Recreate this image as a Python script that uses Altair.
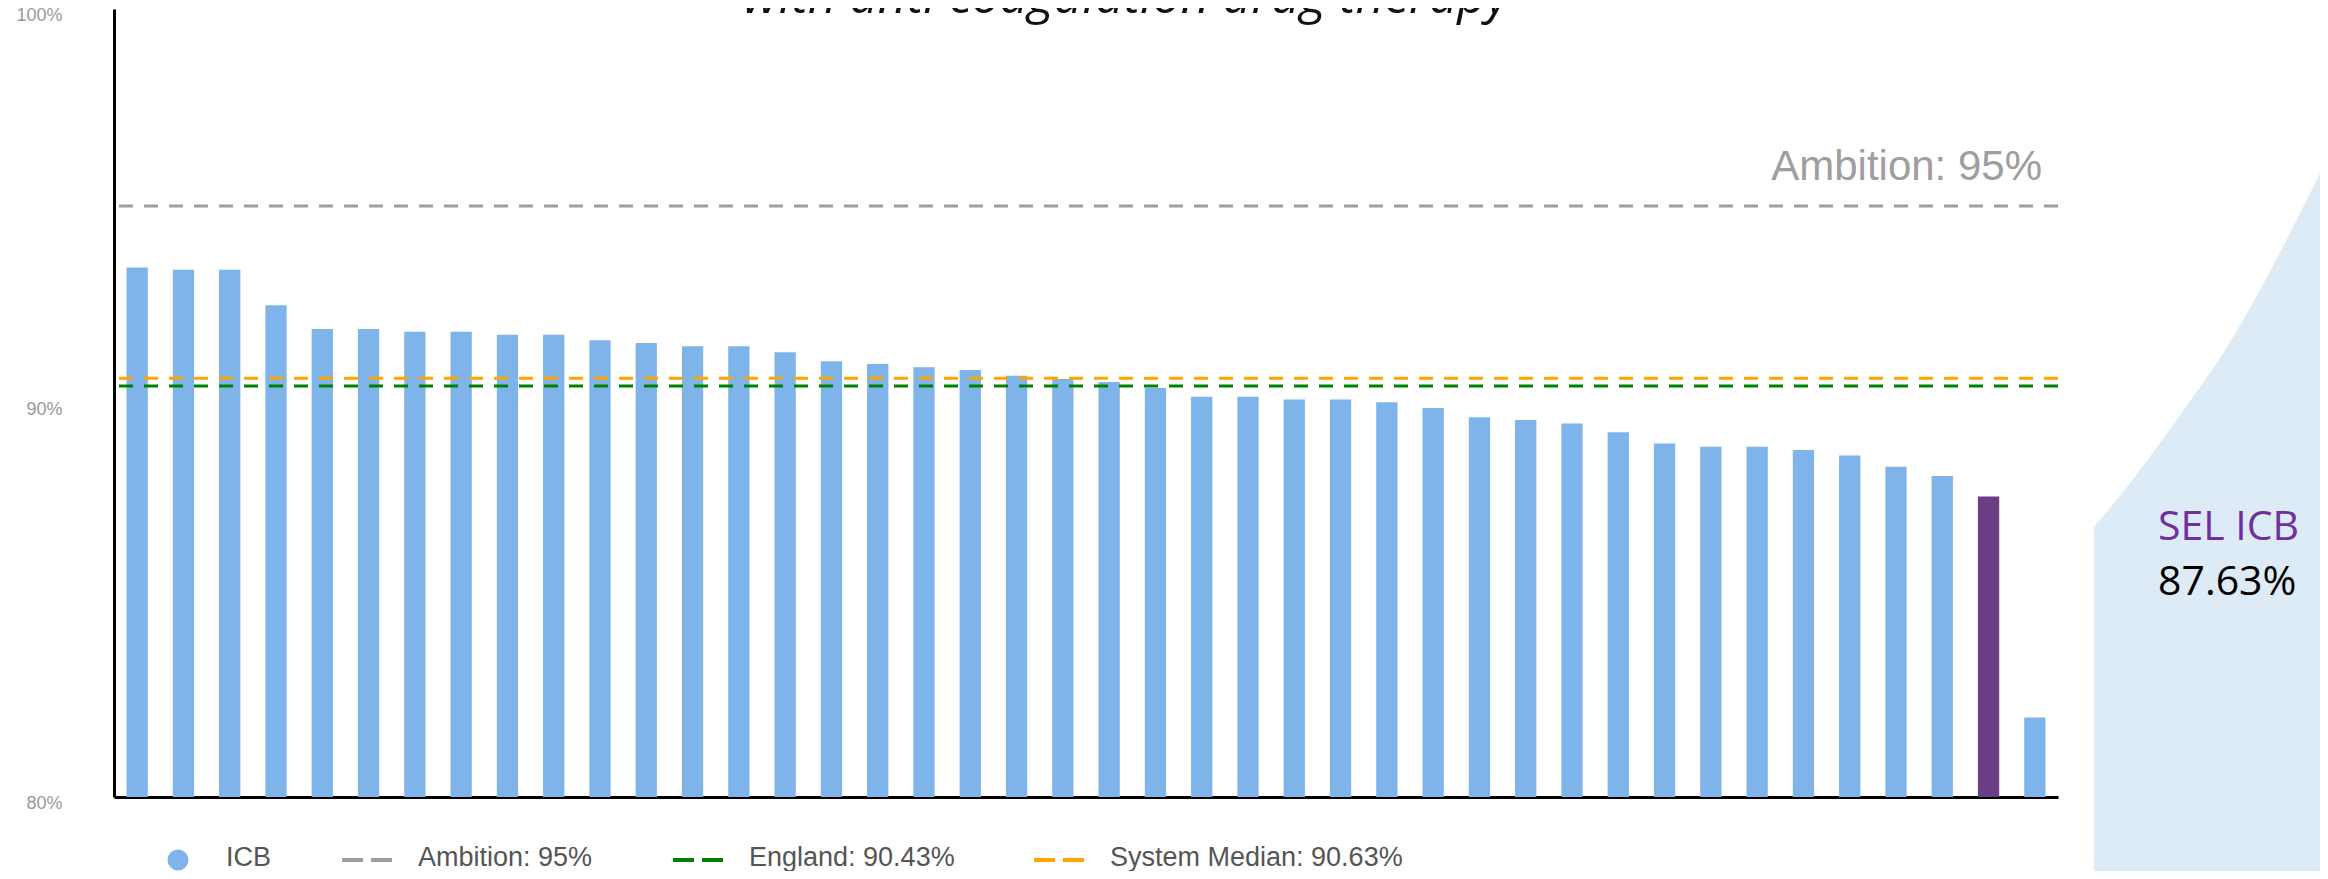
import altair as alt
import pandas as pd

# ---------------- data ----------------
icb_names = [f"ICB {i:02d}" for i in range(1, 41)] + ["SEL ICB", "ICB 42"]
icb_values = [93.44, 93.38, 93.38, 92.48, 91.88, 91.88, 91.81, 91.81, 91.73, 91.73,
              91.59, 91.52, 91.44, 91.44, 91.29, 91.06, 90.99, 90.91, 90.84, 90.69,
              90.61, 90.53, 90.38, 90.16, 90.16, 90.09, 90.09, 90.02, 89.87, 89.64,
              89.57, 89.48, 89.26, 88.97, 88.89, 88.89, 88.81, 88.67, 88.38, 88.15,
              87.63, 82.02]
highlight = "SEL ICB"

ref_names = ["Ambition: 95%", "England: 90.43%", "System Median: 90.63%"]
ref_values = [95.0, 90.43, 90.63]
ref_colors = ["#9E9E9E", "#008000", "#FFA500"]

y_ticks = [80, 90, 100]
title_line = "with anti coagulation drug therapy"
sel_label = "SEL ICB"
sel_value_label = "87.63%"

# decorative background shape (page pixel coordinates)
shape_x = [2094, 2127, 2160, 2193, 2227, 2260, 2293, 2328]
shape_y = [527, 487, 443, 397, 347, 290, 227, 157]

# ---------------- layout ----------------
W, H = 1944, 788
BLUE = "#7EB4EA"
PURPLE = "#6B3D84"
YDOM = [80, 100]

df = pd.DataFrame({"icb": icb_names, "value": icb_values})

yaxis = alt.Axis(values=y_ticks, labelExpr="datum.value + '%'", ticks=False, grid=False,
                 domain=True, domainColor="black", domainWidth=3, labelColor="#999999",
                 labelFont="Liberation Sans", labelFontSize=18, labelPadding=52,
                 labelOffset=6, title=None)

bars = alt.Chart(df).mark_bar().encode(
    x=alt.X("icb:N", sort=icb_names,
            scale=alt.Scale(paddingInner=0.54, paddingOuter=0.27),
            axis=alt.Axis(labels=False, ticks=False, grid=False, title=None,
                          domainColor="black", domainWidth=3)),
    y=alt.Y("value:Q", scale=alt.Scale(domain=YDOM, nice=False, zero=False), axis=yaxis),
    y2=alt.datum(YDOM[0]),
    color=alt.condition(alt.datum.icb == highlight, alt.value(PURPLE), alt.value(BLUE)),
)

rules = []
for nm, val, col in zip(ref_names, ref_values, ref_colors):
    rules.append(
        alt.Chart(pd.DataFrame({"ref": [nm], "value": [val]}))
        .mark_rule(color=col, strokeWidth=3, strokeDash=[14, 11])
        .encode(y=alt.Y("value:Q", scale=alt.Scale(domain=YDOM, nice=False, zero=False), axis=yaxis))
    )

main = alt.layer(bars, *rules)

shape = alt.Chart(pd.DataFrame({"x": shape_x, "y": shape_y})).mark_area(
    color="#DDEBF7", interpolate="monotone"
).encode(
    x=alt.X("x:Q", scale=alt.Scale(domain=[114, 2328], range=[0, 2214], nice=False, zero=False), axis=None),
    y=alt.Y("y:Q", scale=alt.Scale(domain=[9, 879], range=[0, 870], nice=False, zero=False), axis=None),
    y2=alt.datum(879),
)


def text_layer(txt, x, y, **kw):
    return alt.Chart(pd.DataFrame({"t": [txt]})).mark_text(**kw).encode(
        text="t:N", x=alt.value(x), y=alt.value(y))


title_txt = text_layer(title_line, 1012, 4, align="center", baseline="alphabetic",
                       font="Open Sans", fontStyle="italic", fontSize=50, color="#111111")
amb_txt = text_layer(ref_names[0], 1928, 171, align="right", baseline="alphabetic",
                     font="Liberation Sans", fontSize=42, color="#9E9E9E")
sel_txt = text_layer(sel_label, 2044, 531, align="left", baseline="alphabetic",
                     font="Open Sans", fontSize=41, color="#7030A0")
selv_txt = text_layer(sel_value_label, 2044, 586, align="left", baseline="alphabetic",
                      font="Open Sans", fontSize=41, color="#000000")

# legend (manual)
LEG_Y = 851          # centre of symbols (view pixels)
LEG_BASE = 857       # text baseline (view pixels)
LEG_FONT = 27
legend_layers = [
    alt.Chart(pd.DataFrame({"t": ["ICB"]})).mark_point(
        filled=True, shape="circle", size=440, color=BLUE, opacity=1
    ).encode(x=alt.value(64), y=alt.value(LEG_Y)),
    text_layer("ICB", 112, LEG_BASE, align="left", baseline="alphabetic",
               font="Liberation Sans", fontSize=LEG_FONT, color="#555555"),
]
leg_dash_x = [228, 559, 920]
for nm, col, lx in zip(ref_names, ref_colors, leg_dash_x):
    legend_layers.append(
        alt.Chart(pd.DataFrame({"t": [nm]})).mark_rule(
            color=col, strokeWidth=4, strokeDash=[21, 8]
        ).encode(x=alt.value(lx), x2=alt.value(lx + 50), y=alt.value(LEG_Y))
    )
    legend_layers.append(
        text_layer(nm, lx + 76, LEG_BASE, align="left", baseline="alphabetic",
                   font="Liberation Sans", fontSize=LEG_FONT, color="#555555")
    )

chart = alt.layer(
    shape, main, title_txt, amb_txt, sel_txt, selv_txt, *legend_layers
).resolve_scale(
    x="independent", y="independent"
).properties(
    width=W, height=H,
    autosize=alt.AutoSizeParams(type="none"),
    padding={"left": 106, "top": 1, "right": 262, "bottom": 74},
).configure_view(stroke=None)

chart.save("out.html", embed_options={"renderer": "svg", "actions": False})
